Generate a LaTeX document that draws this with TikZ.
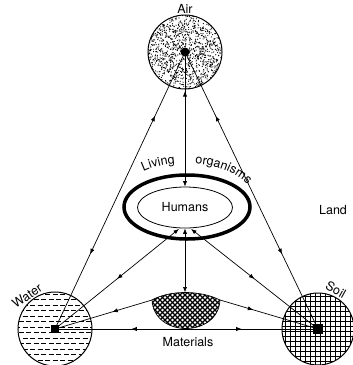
\documentclass[tikz,border=0pt]{standalone}
\usepackage{fontspec}
\setmainfont{TeX Gyre Heros}
\usetikzlibrary{arrows.meta,decorations.markings,decorations.text,shapes.geometric}
\begin{document}
\begin{tikzpicture}[x=1pt,y=-1pt,line width=0.7pt,
  font=\fontsize{12.5}{14}\selectfont,
  >={Latex[length=5.5pt,width=4.2pt]},
  fwd/.style={postaction={decorate,decoration={markings,mark=at position #1 with {\arrow{Latex[length=5.5pt,width=4.2pt]}}}}},
  bwd/.style={postaction={decorate,decoration={markings,mark=at position #1 with {\arrowreversed{Latex[length=5.5pt,width=4.2pt]}}}}},
  sphere/.style={circle,draw,line width=1pt,inner sep=0pt},
  hatchline/.style={dash pattern=on 5pt off 2.5pt,line width=0.9pt},
  gridline/.style={line width=0.8pt},
  crossline/.style={line width=1.1pt},
  lbl/.style={inner sep=0pt}]
\useasboundingbox (0,0) rectangle (353,365);

\coordinate (airc) at (185,52);
\coordinate (waterc) at (55,329);
\coordinate (soilc) at (318,329);
\coordinate (matl) at (152,300);
\coordinate (matr) at (220,300);
\coordinate (matt) at (185,292.5);

% Air stipple
\begin{scope}
  \clip (airc) circle (37pt);
  \pgfmathsetseed{11}
  \foreach \i in {1,...,1400}{
    \pgfmathsetmacro\px{148+74*rnd}
    \pgfmathsetmacro\py{15+74*rnd}
    \fill (\px,\py) circle (0.6pt);
  }
\end{scope}

% Water dashes
\begin{scope}
  \clip (waterc) circle (37pt);
  \foreach \r in {294,305,...,366} \draw[hatchline] (15,\r) -- (96,\r);
  \foreach \r in {299.5,310.5,...,366} \draw[hatchline] (18.75,\r) -- (96,\r);
\end{scope}

% Soil grid
\begin{scope}
  \clip (soilc) circle (36pt);
  \foreach \v in {291,296,...,366} \draw[gridline] (280,\v) -- (356,\v);
  \foreach \u in {280,285,...,356} \draw[gridline] (\u,291) -- (\u,366);
\end{scope}

% Materials crosshatch
\begin{scope}
  \clip (matl) .. controls (170,290) and (200,290) .. (matr) .. controls (218,338) and (154,338) .. (matl) -- cycle;
  \foreach \d in {-45,-40,...,90} {
    \draw[crossline] (140+\d,290) -- (190+\d,340);
    \draw[crossline] (190+\d,290) -- (140+\d,340);
  }
\end{scope}
\draw (matl) .. controls (170,290) and (200,290) .. (matr) .. controls (218,338) and (154,338) .. (matl) -- cycle;

% spheres
\node[sphere,minimum size=74pt] (air) at (airc) {};
\node[sphere,minimum size=74pt] (water) at (waterc) {};
\node[sphere,minimum size=72pt] (soil) at (soilc) {};

% living organisms / humans
\node[ellipse,draw,line width=3.5pt,minimum width=126pt,minimum height=64pt,inner sep=0pt] (living) at (187,207) {};
\node[ellipse,draw,line width=0.8pt,minimum width=95pt,minimum height=41pt,inner sep=0pt] (hum) at (185,207.5) {Humans};

% connectors
\draw[bwd=0.23,fwd=0.73] (air.center) -- (water.center);
\draw[bwd=0.23,fwd=0.73] (air.center) -- (soil.center);
\draw[->,bwd=0.29] (air.center) -- (hum.north);
\draw[<->] (hum.south) -- (matt);
\draw[->,bwd=0.5] (water.center) -- ([xshift=-6pt,yshift=-0.5pt]hum.south);
\draw[->,bwd=0.5] (soil.center) -- ([xshift=6pt,yshift=-0.5pt]hum.south);
\draw[fwd=0.41] (matl) -- (water.center);
\draw[fwd=0.34] (matr) -- (soil.center);
\draw[bwd=0.29,fwd=0.71] (water.center) -- (soil.center);

% centre marks
\fill (air.center) circle (4.5pt);
\fill ([shift={(-4,-4)}]water.center) rectangle ([shift={(4,4)}]water.center);
\fill ([shift={(-5,-5)}]soil.center) rectangle ([shift={(5,5)}]soil.center);

% labels
\node[lbl] (airlbl) at (185,9) {Air};
\node[lbl,rotate=34] (waterlbl) at (27,296) {Water};
\node[lbl,rotate=-29] (soillbl) at (336,290) {Soil};
\node[lbl] (landlbl) at (333,210) {Land};
\node[lbl] (matlbl) at (188,342) {Materials};
\path[decorate,decoration={text along path,text={|\fontsize{12.5}{14}\selectfont|Living},text align=center}]
  plot[domain=0:1,samples=30] ({186+72*cos(127-29*\x)},{207-44*sin(127-29*\x)});
\path[decorate,decoration={text along path,text={|\fontsize{12.5}{14}\selectfont|organisms},text align=center}]
  plot[domain=0:1,samples=40] ({186+72*cos(82-50*\x)},{207-44*sin(82-50*\x)});
\end{tikzpicture}
\end{document}
